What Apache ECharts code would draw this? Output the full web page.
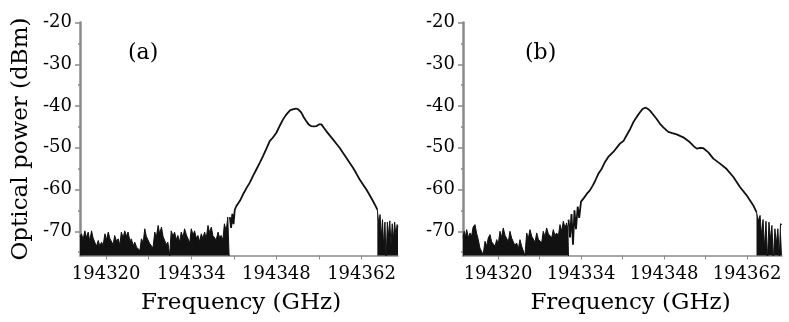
<!DOCTYPE html>
<html>
<head>
<meta charset="utf-8">
<script src="https://cdn.jsdelivr.net/npm/echarts/dist/echarts.min.js"></script>
<style>
	html, body { margin: 0; padding: 0; background: #fff; }
	#chart { width: 789px; height: 322px; }
</style>
</head>
<body>
<div id="chart"></div>
<script>
// tick values
var freqLabels = [194320, 194334, 194348, 194362]
var freqTicks = [194320, 194327, 194334, 194341, 194348, 194355, 194362]
var powerLabels = [-70, -60, -50, -40, -30, -20]
var powerMinor = [-75, -65, -55, -45, -35, -25]

// (a) spectrum: noise floor, main trace, right tail  [GHz, dBm]
var noiseA = [
	[194315.7, -71.2], [194315.95, -70.6], [194316.2, -72.0], [194316.5, -69.9], [194316.75, -71.5],
	[194317.05, -70.2], [194317.3, -72.4], [194317.6, -69.9], [194317.85, -71.6], [194318.15, -71.4],
	[194318.4, -73.6], [194318.7, -72.2], [194318.95, -73.5], [194319.25, -72.6], [194319.5, -73.4],
	[194319.8, -70.6], [194320.05, -72.0], [194320.35, -70.2], [194320.6, -71.7], [194320.9, -71.8],
	[194321.15, -73.2], [194321.4, -71.0], [194321.7, -72.3], [194322.0, -71.8], [194322.25, -73.4],
	[194322.5, -70.2], [194322.8, -71.6], [194323.05, -69.9], [194323.35, -71.2], [194323.6, -70.2],
	[194323.9, -72.3], [194324.15, -71.8], [194324.45, -73.5], [194324.7, -72.6], [194325.0, -73.8],
	[194325.25, -73.4], [194325.55, -74.6], [194325.8, -71.8], [194326.1, -72.7], [194326.35, -69.4],
	[194326.6, -71.2], [194326.9, -71.0], [194327.15, -72.9], [194327.45, -72.6], [194327.7, -74.0],
	[194328.0, -70.2], [194328.25, -71.5], [194328.55, -68.6], [194328.8, -70.6], [194329.1, -69.0],
	[194329.35, -71.2], [194329.6, -71.4], [194329.9, -73.2], [194330.15, -72.6], [194330.45, -75.9],
	[194330.7, -69.9], [194331.0, -71.2], [194331.25, -70.2], [194331.55, -72.0], [194331.8, -71.0],
	[194332.1, -72.6], [194332.35, -70.2], [194332.65, -71.5], [194332.9, -69.4], [194333.2, -70.9],
	[194333.45, -71.0], [194333.75, -72.8], [194334.0, -69.4], [194334.3, -70.9], [194334.55, -69.9],
	[194334.8, -71.6], [194335.1, -71.0], [194335.35, -72.5], [194335.65, -70.6], [194335.9, -71.7],
	[194336.2, -70.2], [194336.45, -71.8], [194336.75, -68.6], [194337.0, -70.3], [194337.3, -69.0],
	[194337.55, -71.0], [194337.85, -70.6], [194338.1, -72.1], [194338.4, -70.2], [194338.65, -71.5],
	[194338.9, -71.0], [194339.2, -72.0], [194339.45, -68.2], [194339.75, -70.0], [194340.0, -66.6],
	[194340.25, -77.0]
]
var curveA = [
	[194340.35, -66.6], [194340.55, -69.2], [194340.75, -65.8], [194340.95, -68.3], [194341.15, -64.9],
	[194341.4, -64.0], [194342.0, -62.7], [194342.5, -61.2], [194343.1, -59.6], [194343.6, -58.4],
	[194344.2, -56.6], [194344.7, -55.2], [194345.3, -53.5], [194345.8, -52.0], [194346.4, -50.1],
	[194346.9, -48.4], [194347.4, -47.6], [194348.0, -46.4], [194348.6, -44.6], [194349.1, -43.2],
	[194349.5, -42.3], [194349.9, -41.6], [194350.3, -41.0], [194350.7, -40.8], [194351.2, -40.6],
	[194351.6, -40.8], [194352.1, -41.6], [194352.5, -42.7], [194352.9, -43.6], [194353.3, -44.4],
	[194353.7, -44.8], [194354.2, -44.9], [194354.6, -44.8], [194355.0, -44.4], [194355.4, -44.4],
	[194355.8, -45.2], [194356.2, -46.0], [194356.8, -47.1], [194357.3, -48.0], [194357.9, -49.1],
	[194358.4, -50.0], [194359.0, -51.3], [194359.5, -52.4], [194360.1, -53.7], [194360.6, -54.8],
	[194361.2, -56.3], [194361.7, -57.6], [194362.3, -58.9], [194362.8, -60.0], [194363.4, -61.5],
	[194363.9, -62.8], [194364.3, -63.9], [194364.6, -64.8]
]
var tailA = [
	[194364.6, -64.8], [194364.85, -68.4], [194365.05, -66.0], [194365.25, -71.5], [194365.45, -67.2],
	[194365.65, -74.0], [194365.85, -67.8], [194366.05, -77.0], [194366.25, -67.8], [194366.45, -71.2],
	[194366.65, -67.5], [194366.85, -73.2], [194367.05, -68.2], [194367.25, -72.0], [194367.45, -67.8],
	[194367.65, -71.0], [194367.85, -68.4], [194368.0, -69.0]
]

// (b) spectrum
var noiseB = [
	[194314.1, -71.5], [194314.3, -70.0], [194314.5, -71.4], [194314.72, -69.6], [194315.0, -71.5],
	[194315.28, -70.4], [194315.55, -71.2], [194315.8, -69.0], [194316.12, -68.4], [194316.4, -70.5],
	[194316.68, -72.0], [194316.95, -74.0], [194317.25, -74.4], [194317.5, -75.6], [194317.81, -72.4],
	[194318.1, -73.5], [194318.36, -71.6], [194318.65, -70.8], [194318.93, -72.5], [194319.21, -72.4],
	[194319.5, -73.6], [194319.78, -72.0], [194320.05, -73.0], [194320.34, -70.0], [194320.6, -71.5],
	[194320.89, -69.2], [194321.2, -71.0], [194321.47, -71.2], [194321.75, -72.5], [194322.02, -70.0],
	[194322.3, -71.6], [194322.58, -72.0], [194322.85, -73.4], [194323.15, -72.8], [194323.43, -74.2],
	[194323.71, -72.0], [194324.0, -73.6], [194324.27, -73.6], [194324.55, -75.8], [194324.84, -70.4],
	[194325.1, -71.8], [194325.4, -69.6], [194325.68, -71.2], [194325.96, -71.2], [194326.25, -72.6],
	[194326.53, -70.4], [194326.8, -71.9], [194327.08, -71.6], [194327.36, -72.8], [194327.64, -70.0],
	[194327.92, -71.3], [194328.21, -69.2], [194328.49, -70.6], [194328.77, -70.4], [194329.05, -71.6],
	[194329.33, -69.6], [194329.6, -71.0], [194329.9, -70.4], [194330.17, -71.2], [194330.46, -68.4],
	[194330.74, -70.0], [194331.02, -67.6], [194331.3, -69.2], [194331.58, -68.0], [194331.8, -69.5],
	[194331.9, -77.0]
]
var curveB = [
	[194331.9, -67.2], [194332.15, -71.5], [194332.4, -65.9], [194332.65, -73.2], [194332.9, -65.0],
	[194333.15, -69.5], [194333.45, -64.1], [194333.7, -66.8], [194334.0, -62.9], [194334.5, -62.0],
	[194335.0, -61.0], [194335.5, -60.2], [194336.0, -59.0], [194336.4, -57.9], [194336.9, -56.3],
	[194337.5, -55.0], [194338.05, -53.4], [194338.6, -52.2], [194339.45, -51.0], [194340.57, -49.0],
	[194341.2, -48.3], [194341.7, -47.0], [194342.3, -45.5], [194342.82, -43.9], [194343.4, -42.6],
	[194343.95, -41.5], [194344.4, -40.7], [194344.79, -40.4], [194345.2, -40.6], [194345.63, -41.1],
	[194346.2, -42.1], [194346.76, -43.1], [194347.3, -44.2], [194347.88, -45.1], [194348.72, -46.2],
	[194349.4, -46.5], [194350.13, -46.8], [194351.25, -47.5], [194352.38, -48.7], [194353.0, -49.6],
	[194353.51, -50.2], [194354.1, -50.0], [194354.63, -50.1], [194355.48, -51.1], [194356.32, -52.6],
	[194357.45, -53.8], [194358.57, -55.1], [194359.7, -57.0], [194360.81, -59.4], [194361.94, -61.4],
	[194363.06, -63.8], [194363.6, -65.4]
]
var tailB = [
	[194363.6, -65.4], [194363.9, -67.5], [194364.2, -66.2], [194364.45, -71.0], [194364.7, -67.2],
	[194364.95, -74.0], [194365.2, -67.6], [194365.45, -77.0], [194365.7, -67.8], [194365.95, -72.0],
	[194366.2, -68.6], [194366.45, -77.0], [194366.7, -69.4], [194366.95, -73.0], [194367.2, -69.4],
	[194367.45, -76.0], [194367.65, -68.2], [194367.9, -68.4]
]

var font = 'DejaVu Serif'
var axisGray = '#8a8a8a'

function plain(v) {
	return String(v)
}

function makeX(grid, min, max, shift) {
	return {
		type: 'value',
		gridIndex: grid,
		min: min,
		max: max,
		name: 'Frequency (GHz)',
		nameLocation: 'middle',
		nameGap: 36,
		nameTextStyle: { fontFamily: font, fontSize: 23, color: '#000', padding: [0, 0, 0, shift] },
		axisLine: { show: true, lineStyle: { color: axisGray, width: 1.5 } },
		axisTick: { show: true, length: 4, customValues: freqTicks, lineStyle: { color: axisGray } },
		axisLabel: { customValues: freqLabels, formatter: plain, margin: 10, fontFamily: font, fontSize: 18, color: '#000' },
		splitLine: { show: false },
	}
}

function makeY(grid, withName) {
	return {
		type: 'value',
		gridIndex: grid,
		position: 'left',
		min: -75.8,
		max: -20,
		name: withName ? 'Optical power (dBm)' : '',
		nameLocation: 'middle',
		nameGap: 47,
		nameTextStyle: { fontFamily: font, fontSize: 23, color: '#000' },
		axisLine: { show: true, lineStyle: { color: axisGray, width: 2.5 } },
		axisTick: { show: true, length: 5, customValues: powerLabels, lineStyle: { color: axisGray, width: 1.5 } },
		axisLabel: { customValues: powerLabels, formatter: plain, margin: 8, fontFamily: font, fontSize: 18, color: '#000' },
		splitLine: { show: false },
	}
}

function makeMinorY(grid) {
	return {
		type: 'value',
		gridIndex: grid,
		position: 'left',
		offset: 0,
		min: -75.8,
		max: -20,
		axisLine: { show: false },
		axisTick: { show: true, length: 2, customValues: powerMinor, lineStyle: { color: axisGray, width: 1.5 } },
		axisLabel: { show: false },
		splitLine: { show: false },
	}
}

function noise(name, data, x, y) {
	return {
		name: name,
		type: 'line',
		xAxisIndex: x,
		yAxisIndex: y,
		data: data,
		showSymbol: false,
		symbol: 'none',
		lineStyle: { color: '#111', width: 1 },
		areaStyle: { color: '#111', opacity: 1, origin: 'start' },
		animation: false,
	}
}

function trace(name, data, x, y) {
	return {
		name: name,
		type: 'line',
		xAxisIndex: x,
		yAxisIndex: y,
		data: data,
		showSymbol: false,
		symbol: 'none',
		lineStyle: { color: '#111', width: 1.8 },
		animation: false,
	}
}

var chart = echarts.init(document.getElementById('chart'))
var option = {
	backgroundColor: '#fff',
	animation: false,
	title: [
		{ text: '(a)', left: 123, top: 37, textStyle: { fontFamily: font, fontSize: 22, fontWeight: 'normal', color: '#000' } },
		{ text: '(b)', left: 520, top: 37, textStyle: { fontFamily: font, fontSize: 22, fontWeight: 'normal', color: '#000' } },
	],
	grid: [
		{ left: 80, top: 22.5, width: 318, height: 233 },
		{ left: 463, top: 22.5, width: 319, height: 233 },
	],
	xAxis: [makeX(0, 194315.7, 194368.0, 4), makeX(1, 194314.1, 194367.9, 16)],
	yAxis: [makeY(0, true), makeMinorY(0), makeY(1, false), makeMinorY(1)],
	series: [
		noise('noiseA', noiseA, 0, 0),
		trace('curveA', curveA, 0, 0),
		noise('tailA', tailA, 0, 0),
		noise('noiseB', noiseB, 1, 2),
		trace('curveB', curveB, 1, 2),
		noise('tailB', tailB, 1, 2),
	],
}
chart.setOption(option)
</script>
</body>
</html>
